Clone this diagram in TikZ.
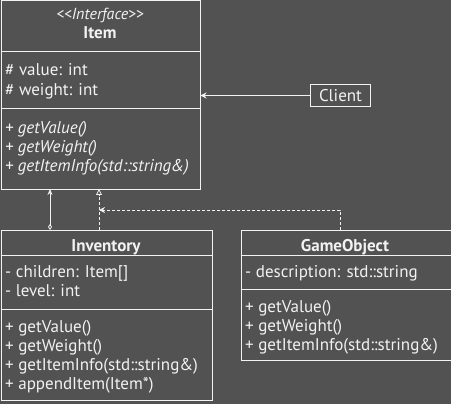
\documentclass[tikz,border=0pt]{standalone}
\usepackage{fontspec}
\setmainfont{PT Sans}
\usetikzlibrary{arrows.meta}
\definecolor{bg}{HTML}{525252}
\definecolor{fg}{HTML}{F2F2F2}
\tikzset{
  umlbox/.style={draw=fg, line width=1pt, anchor=north west, inner sep=0pt},
  sepline/.style={draw=fg, line width=1pt},
  txt/.style={anchor=base west, inner sep=0pt, text=fg, font=\fontsize{17}{19}\selectfont},
  itxt/.style={txt, font=\fontsize{17}{19}\selectfont\itshape},
  ttl/.style={anchor=base, inner sep=0pt, text=fg, font=\fontsize{17}{19}\selectfont\bfseries},
  conn/.style={draw=fg, line width=0.8pt},
}
\begin{document}
\begin{tikzpicture}[x=1pt,y=-1pt]
\fill[bg] (0,0) rectangle (451,404);
\useasboundingbox (0,0) rectangle (451,404);
% Item
\node[umlbox, minimum width=199pt, minimum height=188.5pt] (item) at (0.5,0.5) {};
\draw[sepline] (0.5,52) -- (199.5,52);
\draw[sepline] (0.5,109) -- (199.5,109);
\node[anchor=base, inner sep=0pt, text=fg, font=\fontsize{16}{18}\selectfont\itshape] (iint) at (100,20) {{<}{<}Interface{>}{>}};
\node[ttl] (ititle) at (100,39) {Item};
\node[txt] (ia1) at (5,76) {\# value: int};
\node[txt] (ia2) at (5,96) {\# weight: int};
\node[itxt] (im1) at (5,134) {+ getValue()};
\node[itxt] (im2) at (5,153) {+ getWeight()};
\node[itxt] (im3) at (5,172) {+ getItemInfo(std::string\&)};
% Inventory
\node[umlbox, minimum width=211pt, minimum height=170pt] (inv) at (0.5,230) {};
\draw[sepline] (0.5,256) -- (211.5,256);
\draw[sepline] (0.5,310) -- (211.5,310);
\node[ttl] (invt) at (106,252) {Inventory};
\node[txt] (inva1) at (5,278) {- children: Item[]};
\node[txt] (inva2) at (5,297) {- level: int};
\node[txt] (invm1) at (5,333) {+ getValue()};
\node[txt] (invm2) at (5,352) {+ getWeight()};
\node[txt] (invm3) at (5,371) {+ getItemInfo(std::string\&)};
\node[txt] (invm4) at (5,390) {+ appendItem(Item*)};
% GameObject
\node[umlbox, minimum width=210pt, minimum height=130pt] (go) at (240.5,230) {};
\draw[sepline] (240.5,256) -- (450.5,256);
\draw[sepline] (240.5,290) -- (450.5,290);
\node[ttl] (got) at (345,252) {GameObject};
\node[txt] (goa1) at (245,278) {- description: std::string};
\node[txt] (gom1) at (245,313) {+ getValue()};
\node[txt] (gom2) at (245,332) {+ getWeight()};
\node[txt] (gom3) at (245,351) {+ getItemInfo(std::string\&)};
% Client
\node[umlbox, minimum width=60pt, minimum height=22pt] (client) at (310,84) {};
\node[anchor=center, inner sep=0pt, text=fg, font=\fontsize{17}{19}\selectfont] (clientt) at (client.center) {Client};
% connectors
\draw[conn, -{Stealth[length=6pt,width=6pt]}] (client.west) -- (client.west -| item.east);
\coordinate (aggtop) at (50,189);
\coordinate (aggbot) at (50,230);
\draw[conn, {Diamond[open,length=6pt,width=4pt]}-{Stealth[length=6pt,width=5pt]}] (aggbot) -- (aggtop);
\coordinate (realtop) at (99,189);
\coordinate (realbot) at (99,230);
\draw[conn, dashed, dash pattern=on 3pt off 2pt, -{Triangle[open,length=6pt,width=6pt]}] (realbot) -- (realtop);
\coordinate (gotop) at (340,230);
\coordinate (bend) at (340,210);
\coordinate (join) at (99,210);
\draw[conn, dashed, dash pattern=on 3pt off 2pt, -{Stealth[length=6pt,width=6pt]}] (gotop) -- (bend) -- (join);
\end{tikzpicture}
\end{document}
